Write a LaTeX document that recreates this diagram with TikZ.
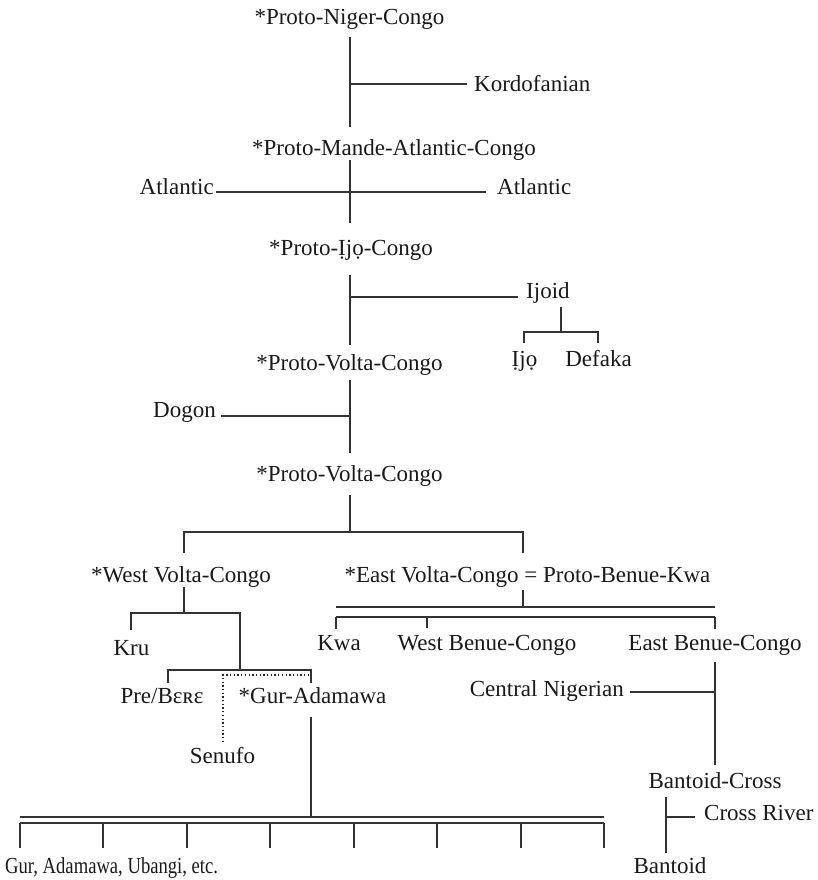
\documentclass[tikz,border=0pt]{standalone}
\usepackage{fontspec}
\setmainfont{Liberation Serif}
\begin{document}
\begin{tikzpicture}[x=1pt,y=-1pt,
  lbl/.style={anchor=base,inner sep=0pt,font=\fontsize{23}{27}\selectfont,text=black!90},
  ln/.style={draw=black!80,line width=1.1pt},
  dln/.style={draw=black!85,line width=1.3pt,dash pattern=on 1.3pt off 2.4pt}]
\useasboundingbox (0,0) rectangle (818,880);
% labels
\node[lbl] (pnc) at (349.5,25) {*Proto-Niger-Congo};
\node[lbl,anchor=base west] (kordo) at (474,92) {Kordofanian};
\node[lbl] (pmac) at (394,155) {*Proto-Mande-Atlantic-Congo};
\node[lbl,anchor=base east] (atl1) at (214,194) {Atlantic};
\node[lbl,anchor=base west] (atl2) at (497,194) {Atlantic};
\node[lbl] (pic) at (351,255) {*Proto-Ịjọ-Congo};
\node[lbl,anchor=base west] (ijoid) at (526,298) {Ijoid};
\node[lbl] (ijo) at (524.5,366) {Ịjọ};
\node[lbl] (defaka) at (598.5,366) {Defaka};
\node[lbl] (pvc1) at (349.5,370) {*Proto-Volta-Congo};
\node[lbl,anchor=base east] (dogon) at (216,417) {Dogon};
\node[lbl] (pvc2) at (349.5,481) {*Proto-Volta-Congo};
\node[lbl] (wvc) at (181,582) {*West Volta-Congo};
\node[lbl] (evc) at (527.5,582) {*East Volta-Congo = Proto-Benue-Kwa};
\node[lbl] (kru) at (131.5,655) {Kru};
\node[lbl] (kwa) at (339,650) {Kwa};
\node[lbl] (wbc) at (487,650) {West Benue-Congo};
\node[lbl] (ebc) at (715,650) {East Benue-Congo};
\node[lbl] (pre) at (162,703) {Pre/Bɛʀɛ};
\node[lbl] (gura) at (312.5,703) {*Gur-Adamawa};
\node[lbl,anchor=base east] (cn) at (624,696) {Central Nigerian};
\node[lbl] (senufo) at (222.5,763) {Senufo};
\node[lbl] (bc) at (715,788) {Bantoid-Cross};
\node[lbl,anchor=base west] (cr) at (704,820) {Cross River};
\node[lbl,anchor=base west] (gur) at (5,873) {\scalebox{0.81}[1]{Gur, Adamawa, Ubangi, etc.}};
\node[lbl] (bantoid) at (670,873) {Bantoid};
% coordinates
\coordinate (a1) at (350,37); \coordinate (a2) at (350,127);
\coordinate (k1) at (350,84); \coordinate (k2) at (467,84);
\coordinate (b1) at (350,160); \coordinate (b2) at (350,223);
\coordinate (t1) at (216,192); \coordinate (t2) at (486,192);
\coordinate (c1) at (350,275); \coordinate (c2) at (350,345);
\coordinate (i1) at (350,297); \coordinate (i2) at (518,297);
\coordinate (j1) at (561,307); \coordinate (j2) at (561,332);
\coordinate (jl) at (524,332); \coordinate (jr) at (598,332);
\coordinate (jld) at (524,343); \coordinate (jrd) at (598,343);
\coordinate (d1) at (350,380); \coordinate (d2) at (350,453);
\coordinate (g1) at (221,416); \coordinate (g2) at (350,416);
\coordinate (e1) at (350,495); \coordinate (e2) at (350,532);
\coordinate (el) at (184,532); \coordinate (er) at (523,532);
\coordinate (eld) at (184,553); \coordinate (erd) at (523,553);
\coordinate (w1) at (184,587); \coordinate (w2) at (184,613);
\coordinate (wl) at (131,613); \coordinate (wr) at (240,613);
\coordinate (wld) at (131,630); \coordinate (wrd) at (240,670);
\coordinate (pl) at (168,670); \coordinate (pr) at (311,670);
\coordinate (pld) at (168,683); \coordinate (prd) at (311,683);
\coordinate (s1) at (223,742); \coordinate (s2) at (223,675); \coordinate (s3) at (309,675);
\coordinate (ga1) at (311,717); \coordinate (ga2) at (311,817);
\coordinate (cl1) at (20,817); \coordinate (cr1) at (604,817);
\coordinate (cl2) at (20,823); \coordinate (cr2) at (604,823);
\coordinate (x1) at (523,590); \coordinate (x2) at (523,607);
\coordinate (xl1) at (336,607); \coordinate (xr1) at (715,607);
\coordinate (xl2) at (336,617); \coordinate (xr2) at (715,617);
\coordinate (xm) at (427,617);
\coordinate (xld) at (336,629); \coordinate (xmd) at (427,628); \coordinate (xrd) at (715,629);
\coordinate (y1) at (715,662); \coordinate (y2) at (715,765);
\coordinate (n1) at (630,692); \coordinate (n2) at (715,692);
\coordinate (z1) at (666,797); \coordinate (z2) at (666,853);
\coordinate (r1) at (666,817); \coordinate (r2) at (695,817);
% lines
\draw[ln] (a1) -- (a2);
\draw[ln] (k1) -- (k2);
\draw[ln] (b1) -- (b2);
\draw[ln] (t1) -- (t2);
\draw[ln] (c1) -- (c2);
\draw[ln] (i1) -- (i2);
\draw[ln] (j1) -- (j2);
\draw[ln] (jld) -- (jl) -- (jr) -- (jrd);
\draw[ln] (d1) -- (d2);
\draw[ln] (g1) -- (g2);
\draw[ln] (e1) -- (e2);
\draw[ln] (eld) -- (el) -- (er) -- (erd);
\draw[ln] (w1) -- (w2);
\draw[ln] (wld) -- (wl) -- (wr) -- (wrd);
\draw[ln] (pld) -- (pl) -- (pr) -- (prd);
\draw[dln] (s1) -- (s2) -- (s3);
\draw[ln] (ga1) -- (ga2);
\draw[ln] (cl1) -- (cr1);
\draw[ln] (cl2) -- (cr2);
\foreach \x [count=\i] in {20,103,187,270,354,437,521,604} {
  \coordinate (tk\i a) at (\x,823);
  \coordinate (tk\i b) at (\x,848);
  \draw[ln] (tk\i a) -- (tk\i b);
}
\draw[ln] (x1) -- (x2);
\draw[ln] (xl1) -- (xr1);
\draw[ln] (xl2) -- (xr2);
\draw[ln] (xl2) -- (xld);
\draw[ln] (xm) -- (xmd);
\draw[ln] (xr2) -- (xrd);
\draw[ln] (y1) -- (y2);
\draw[ln] (n1) -- (n2);
\draw[ln] (z1) -- (z2);
\draw[ln] (r1) -- (r2);
\end{tikzpicture}
\end{document}
